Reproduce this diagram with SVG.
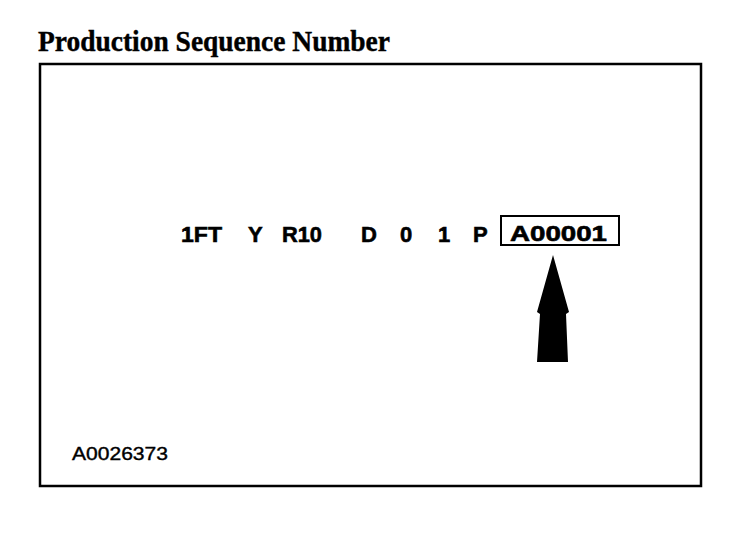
<svg xmlns="http://www.w3.org/2000/svg" width="752" height="534" viewBox="0 0 752 534">
<style>
.title{font-family:"Liberation Serif","Times New Roman",serif;font-weight:bold;font-size:29px;fill:#000;stroke:#000;stroke-width:0.4}
.code{font-family:"Liberation Sans",Arial,sans-serif;font-weight:bold;font-size:22px;fill:#000;stroke:#000;stroke-width:0.6}
.ref{font-family:"Liberation Sans",Arial,sans-serif;font-size:18px;fill:#000;stroke:#000;stroke-width:0.4}
</style>
<rect width="752" height="534" fill="#fff"/>
<text class="title" x="38" y="51" textLength="352" lengthAdjust="spacingAndGlyphs">Production Sequence Number</text>
<rect id="frame" x="40" y="64" width="661" height="422" fill="none" stroke="#000" stroke-width="2.5"/>
<g id="vin">
<text class="code" x="181" y="242" textLength="41" lengthAdjust="spacingAndGlyphs">1FT</text>
<text class="code" x="248" y="242">Y</text>
<text class="code" x="282" y="242" textLength="40" lengthAdjust="spacingAndGlyphs">R10</text>
<text class="code" x="361" y="242">D</text>
<text class="code" x="400" y="242">0</text>
<text class="code" x="438" y="242">1</text>
<text class="code" x="473" y="242">P</text>
</g>
<g id="seq">
<rect x="501" y="216" width="118" height="29" fill="none" stroke="#000" stroke-width="2"/>
<text class="code" x="510" y="241" textLength="97" lengthAdjust="spacingAndGlyphs">A00001</text>
</g>
<g id="connectors">
<polygon points="553,255 569,312 566,314 568,362 537,362 540,314 537,312" fill="#000"/>
</g>
<text class="ref" x="72" y="460" textLength="96" lengthAdjust="spacingAndGlyphs">A0026373</text>
</svg>
